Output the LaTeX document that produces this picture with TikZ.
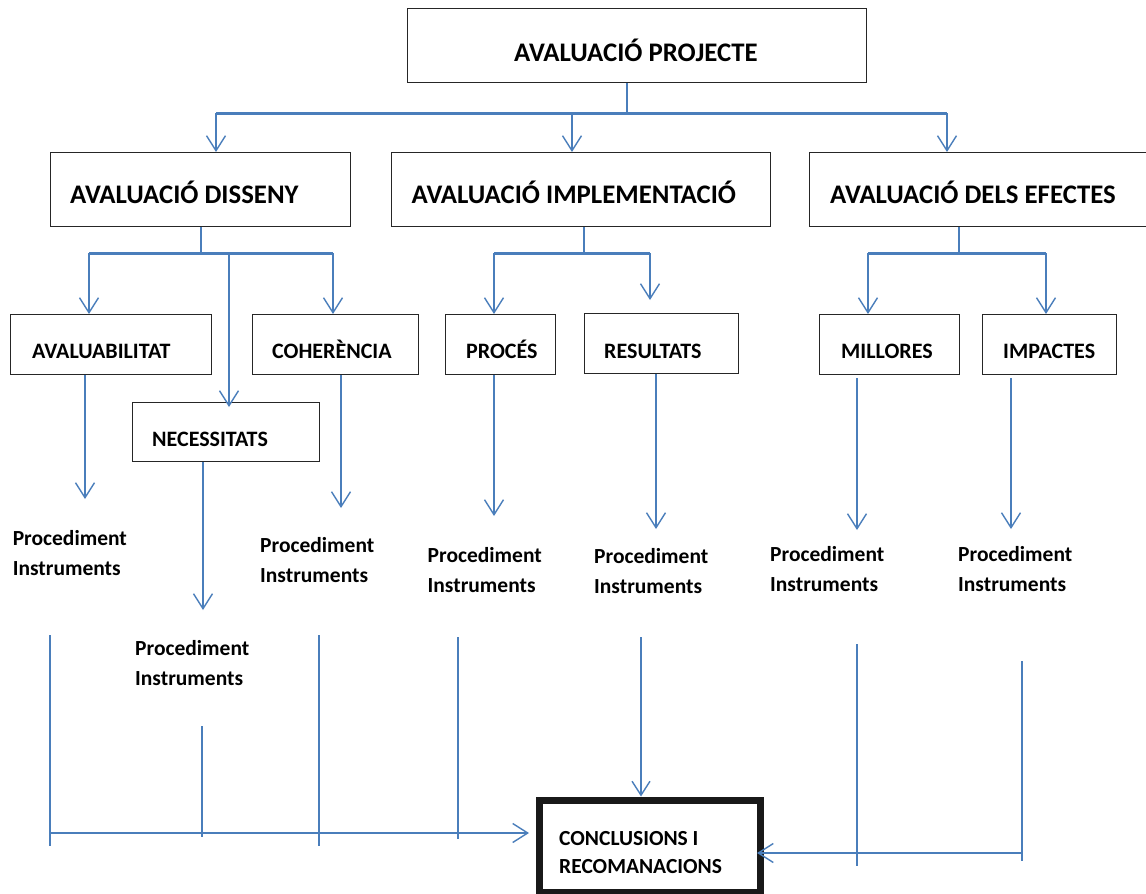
\documentclass[tikz,border=0pt]{standalone}
\usepackage{fontspec}
\setmainfont{Carlito}
\usetikzlibrary{arrows.meta}
\definecolor{wblue}{HTML}{4A7EBB}
\begin{document}
\begin{tikzpicture}[x=1pt,y=-1pt,
  box/.style={draw=black!85, line width=1.4pt, inner sep=0pt, anchor=north west},
  conn/.style={draw=wblue, line width=1.6pt},
  bar/.style={draw=wblue, line width=3pt},
  thinl/.style={draw=wblue, line width=1.3pt},
  arr/.style={conn, -{Straight Barb[length=15pt,width=19pt,line width=1.4pt]}},
  arrthin/.style={thinl, -{Straight Barb[length=14pt,width=18pt,line width=1.4pt]}},
  big/.style={font=\fontsize{26.8}{30}\selectfont\bfseries, inner sep=0pt, anchor=base west},
  lab/.style={font=\fontsize{22}{25}\selectfont\bfseries, inner sep=0pt, anchor=base west},
  small/.style={font=\fontsize{21.5}{25}\selectfont\bfseries, inner sep=0pt, anchor=base west},
]
\useasboundingbox[fill=white] (0,0) rectangle (1146,894);

% boxes
\node[box, minimum width=459pt, minimum height=74pt] (top) at (407,8) {};
\node[box, minimum width=300pt, minimum height=74pt] (dis) at (50,152) {};
\node[box, minimum width=379pt, minimum height=74pt] (imp) at (391,152) {};
\node[box, minimum width=360pt, minimum height=74pt] (efe) at (809,152) {};
\node[box, minimum width=201pt, minimum height=60pt] (avb) at (10,314) {};
\node[box, minimum width=187pt, minimum height=59pt] (nec) at (132,402) {};
\node[box, minimum width=166pt, minimum height=60pt] (coh) at (252,314) {};
\node[box, minimum width=110pt, minimum height=60pt] (pro) at (445,314) {};
\node[box, minimum width=154pt, minimum height=60pt] (res) at (584,313) {};
\node[box, minimum width=140pt, minimum height=60pt] (mil) at (819,314) {};
\node[box, minimum width=134pt, minimum height=60pt] (imc) at (982,314) {};
\node[draw=black!90, line width=7pt, inner sep=0pt, anchor=north west,
      minimum width=221pt, minimum height=92pt] (con) at (535.5,796.5) {};

% texts
\node[big] (topT) at (514,61) {AVALUACIÓ PROJECTE};
\node[big] (disT) at (70,203) {AVALUACIÓ DISSENY};
\node[big] (impT) at (411.5,203) {AVALUACIÓ IMPLEMENTACIÓ};
\node[big] (efeT) at (830,203) {AVALUACIÓ DELS EFECTES};
\node[lab] (avbT) at (32,358) {AVALUABILITAT};
\node[lab] (necT) at (152,446) {NECESSITATS};
\node[lab] (cohT) at (272,358) {COHERÈNCIA};
\node[lab] (proT) at (466,358) {PROCÉS};
\node[lab] (resT) at (604,358) {RESULTATS};
\node[lab] (milT) at (841,358) {MILLORES};
\node[lab] (imcT) at (1003,358) {IMPACTES};
\node[small] (conT1) at (559,845) {CONCLUSIONS I};
\node[small] (conT2) at (559,873) {RECOMANACIONS};

\foreach \n/\x/\y in {pA/12.6/545, pN/135/655, pC/260/552, pP/427.5/562,
                      pR/594/563, pM/770/561, pI/958/561}{
  \node[small] (\n1) at (\x,\y) {Procediment};
  \node[small] (\n2) at (\x,\y+30) {Instruments};
}

% level 1 -> 2
\draw[conn] (627,0 |- top.south) -- (627,113);
\draw[bar] (216,113) -- (947,113);
\draw[arr] (216,113) -- (216,0 |- dis.north);
\draw[arr] (572,113) -- (572,0 |- imp.north);
\draw[arr] (947,113) -- (947,0 |- efe.north);

% disseny
\draw[conn] (201,0 |- dis.south) -- (201,255);
\draw[bar] (89,253) -- (333,253);
\draw[arr] (89,253) -- (89,0 |- avb.north);
\draw[arr] (333,253) -- (333,0 |- coh.north);
\draw[arr] (229,253) -- (229,407);

% implementacio
\draw[conn] (584,0 |- imp.south) -- (584,255);
\draw[bar] (494,253) -- (650,253);
\draw[arr] (494,253) -- (494,0 |- pro.north);
\draw[arr] (650,253) -- (650,300);

% efectes
\draw[conn] (959,0 |- efe.south) -- (959,255);
\draw[bar] (868,253) -- (1046,253);
\draw[arr] (868,253) -- (868,0 |- mil.north);
\draw[arr] (1046,253) -- (1046,0 |- imc.north);

% level 3 -> procediment
\draw[arr] (85,0 |- avb.south) -- (85,499);
\draw[arr] (203,0 |- nec.south) -- (203,610);
\draw[arr] (341,0 |- coh.south) -- (341,508);
\draw[arr] (494,0 |- pro.south) -- (494,516);
\draw[arr] (656,0 |- res.south) -- (656,529);
\draw[arr] (857,378) -- (857,530);
\draw[arr] (1011,378) -- (1011,529);

% bottom lines
\draw[thinl] (50,635) -- (50,846);
\draw[thinl] (202,726) -- (202,837);
\draw[thinl] (319,635) -- (319,846);
\draw[thinl] (458,637) -- (458,839);
\draw[arrthin] (641,637) -- (641,0 |- con.north);
\draw[thinl] (857,644) -- (857,866);
\draw[thinl] (1022,661) -- (1022,861);
\draw[arr] (50,833) -- (529,833);
\draw[arr] (1022,853) -- (757,853);
\end{tikzpicture}
\end{document}
